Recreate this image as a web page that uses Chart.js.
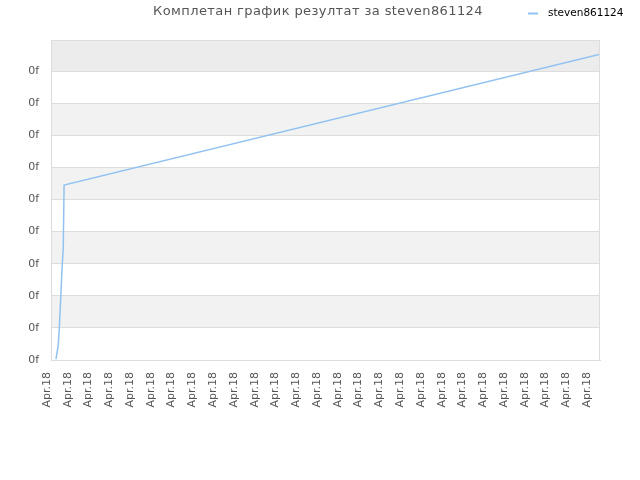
<!DOCTYPE html>
<html>
<head>
<meta charset="utf-8">
<script src="https://cdn.jsdelivr.net/npm/chart.js@4.4.1/dist/chart.umd.min.js"></script>
<style>
  html, body { margin: 0; padding: 0; background: #fff; }
  #wrap { width: 640px; height: 480px; }
</style>
</head>
<body>
<div id="wrap"><canvas id="scoreChart" width="640" height="480"></canvas></div>
<script>
// chart data
const chartTitle = "Комплетан график резултат за steven861124";
const seriesName = "steven861124";
const xValues = [0.24, 0.35, 0.40, 0.47, 0.54, 0.59, 0.63, 26.43];
const yValues = [0.03, 0.47, 1.0, 1.96, 2.96, 3.49, 5.45, 9.53];
const xTickLabel = "Apr.18";
const yTickLabel = "0f";
const xMax = 26.43;
const yMax = 9.97;

const lineColor = "#92c2f2";
const points = xValues.map((x, i) => ({ x: x, y: yValues[i] }));

// alternating background bands between y ticks, plot border, title and legend
const bandsPlugin = {
  id: "bands",
  beforeDraw(chart) {
    const { ctx, chartArea, scales } = chart;
    const y = scales.y;
    const edges = y.ticks.map(t => t.value).concat([y.max]);
    ctx.save();
    for (let i = 0; i < edges.length - 1; i++) {
      const top = y.getPixelForValue(edges[i + 1]);
      const bottom = y.getPixelForValue(edges[i]);
      let color = null;
      if (i === edges.length - 2) color = "#ececec";
      else if (i % 2 === 1) color = "#f2f2f2";
      if (color) {
        ctx.fillStyle = color;
        ctx.fillRect(chartArea.left, top, chartArea.right - chartArea.left, bottom - top);
      }
    }
    ctx.restore();
  },
  afterDraw(chart) {
    const { ctx, chartArea } = chart;
    ctx.save();
    ctx.strokeStyle = "#dddddd";
    ctx.lineWidth = 1;
    ctx.strokeRect(chartArea.left + 0.5, chartArea.top + 0.5,
      chartArea.right - chartArea.left - 1, chartArea.bottom - chartArea.top);

    // title
    ctx.fillStyle = "#555555";
    ctx.font = "13px 'DejaVu Sans'";
    ctx.textAlign = "center";
    ctx.textBaseline = "middle";
    if ("letterSpacing" in ctx) ctx.letterSpacing = "0.4px";
    ctx.fillText(chartTitle, 318, 12);

    // legend
    if ("letterSpacing" in ctx) ctx.letterSpacing = "0px";
    const ds = chart.data.datasets[0];
    ctx.strokeStyle = ds.borderColor;
    ctx.lineWidth = 2;
    ctx.beginPath();
    ctx.moveTo(528, 13.5);
    ctx.lineTo(538, 13.5);
    ctx.stroke();
    ctx.fillStyle = "#000";
    ctx.font = "10.5px 'DejaVu Sans'";
    ctx.textAlign = "left";
    ctx.fillText(ds.label, 548, 13);
    ctx.restore();
  }
};

const ctx = document.getElementById("scoreChart").getContext("2d");
const scoreChart = new Chart(ctx, {
  type: "line",
  data: {
    datasets: [
      {
        label: seriesName,
        data: points,
        borderColor: lineColor,
        backgroundColor: lineColor,
        borderWidth: 1.5,
        pointRadius: 0,
        tension: 0,
        fill: false,
      },
    ],
  },
  options: {
    responsive: false,
    animation: false,
    layout: { padding: { top: 40, right: 40, left: 0, bottom: 0 } },
    plugins: {
      tooltip: { enabled: false },
      legend: { display: false },
    },
    scales: {
      x: {
        type: "linear",
        min: 0,
        max: xMax,
        afterFit(scale) { scale.height = 120; },
        grid: { display: false },
        border: { display: true, color: "#dddddd" },
        ticks: {
          stepSize: 1,
          includeBounds: false,
          autoSkip: false,
          maxRotation: 90,
          minRotation: 90,
          padding: 4,
          labelOffset: -4,
          color: "#555",
          font: { family: "DejaVu Sans", size: 11 },
          callback: () => xTickLabel,
        },
      },
      y: {
        type: "linear",
        min: 0,
        max: yMax,
        afterFit(scale) { scale.width = 51; },
        grid: { color: "#dddddd", drawTicks: false },
        border: { display: true, color: "#dddddd" },
        ticks: {
          stepSize: 1,
          includeBounds: false,
          padding: 12,
          color: "#555",
          font: { family: "DejaVu Sans", size: 11 },
          callback: () => yTickLabel,
        },
      },
    },
  },
  plugins: [bandsPlugin],
});
</script>
</body>
</html>
